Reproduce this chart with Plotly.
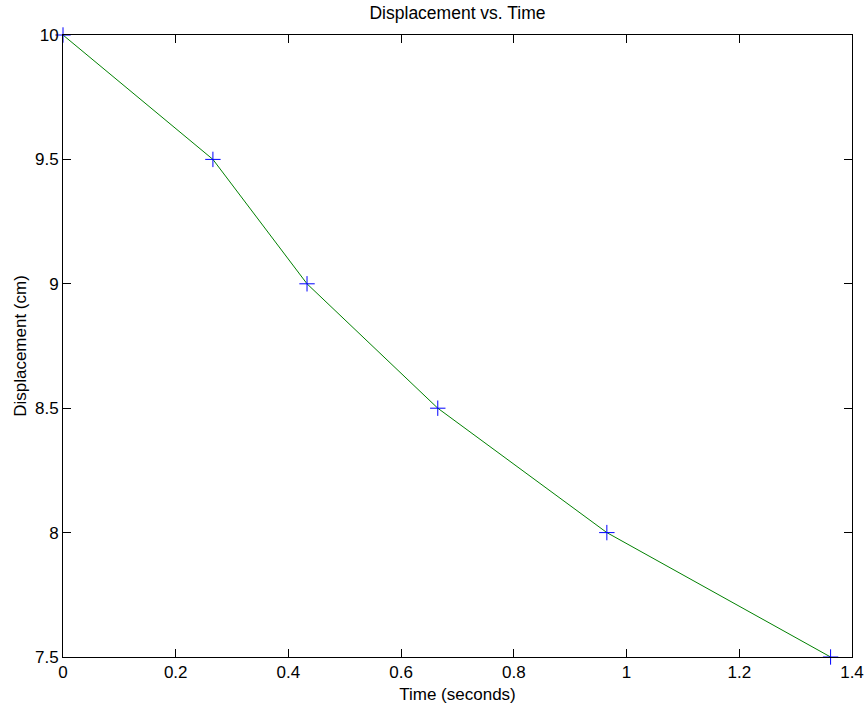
import plotly.graph_objects as go

time_s = [0, 0.266, 0.433, 0.665, 0.965, 1.362]
displacement_cm = [10, 9.5, 9.0, 8.5, 8.0, 7.5]

FONT = "Liberation Sans, Arial, Helvetica, sans-serif"

W, H = 867, 711
L, R, T, B = 63, 15, 35, 54

fig = go.Figure()
fig.add_trace(go.Scatter(x=time_s, y=displacement_cm, mode="lines",
                         line=dict(color="#008000", width=1), showlegend=False,
                         hoverinfo="skip"))
fig.add_trace(go.Scatter(x=time_s, y=displacement_cm, mode="markers",
                         marker=dict(symbol="cross-thin", size=11,
                                     line=dict(color="#0000ff", width=1)),
                         cliponaxis=False, showlegend=False))

axis_common = dict(showgrid=False, zeroline=False, showline=True, linecolor="black",
                   linewidth=1, mirror="ticks", ticks="inside", ticklen=8,
                   tickcolor="black", tickwidth=1,
                   tickfont=dict(family=FONT, size=17, color="black"))

fig.update_layout(
    width=W, height=H,
    margin=dict(l=L, r=R, t=T, b=B),
    paper_bgcolor="white", plot_bgcolor="white",
    font=dict(family=FONT, size=17, color="black"),
    title=dict(text="Displacement vs. Time", x=(L + (W - R)) / 2 / W, xanchor="center",
               y=1 - 13 / H, yanchor="middle", font=dict(family=FONT, size=17.5, color="black")),
    xaxis=dict(range=[0, 1.4], dtick=0.2, tick0=0,
               title=dict(text="Time (seconds)", standoff=6, font=dict(family=FONT, size=17)),
               automargin=False, **axis_common),
    yaxis=dict(range=[7.5, 10], dtick=0.5, tick0=7.5,
               title=dict(text="Displacement (cm)", standoff=4, font=dict(family=FONT, size=17)),
               automargin=False, **axis_common),
)

fig.write_html("out.html", config={"displayModeBar": False},
               post_script="document.body.style.margin='0';document.body.style.overflow='hidden';")
